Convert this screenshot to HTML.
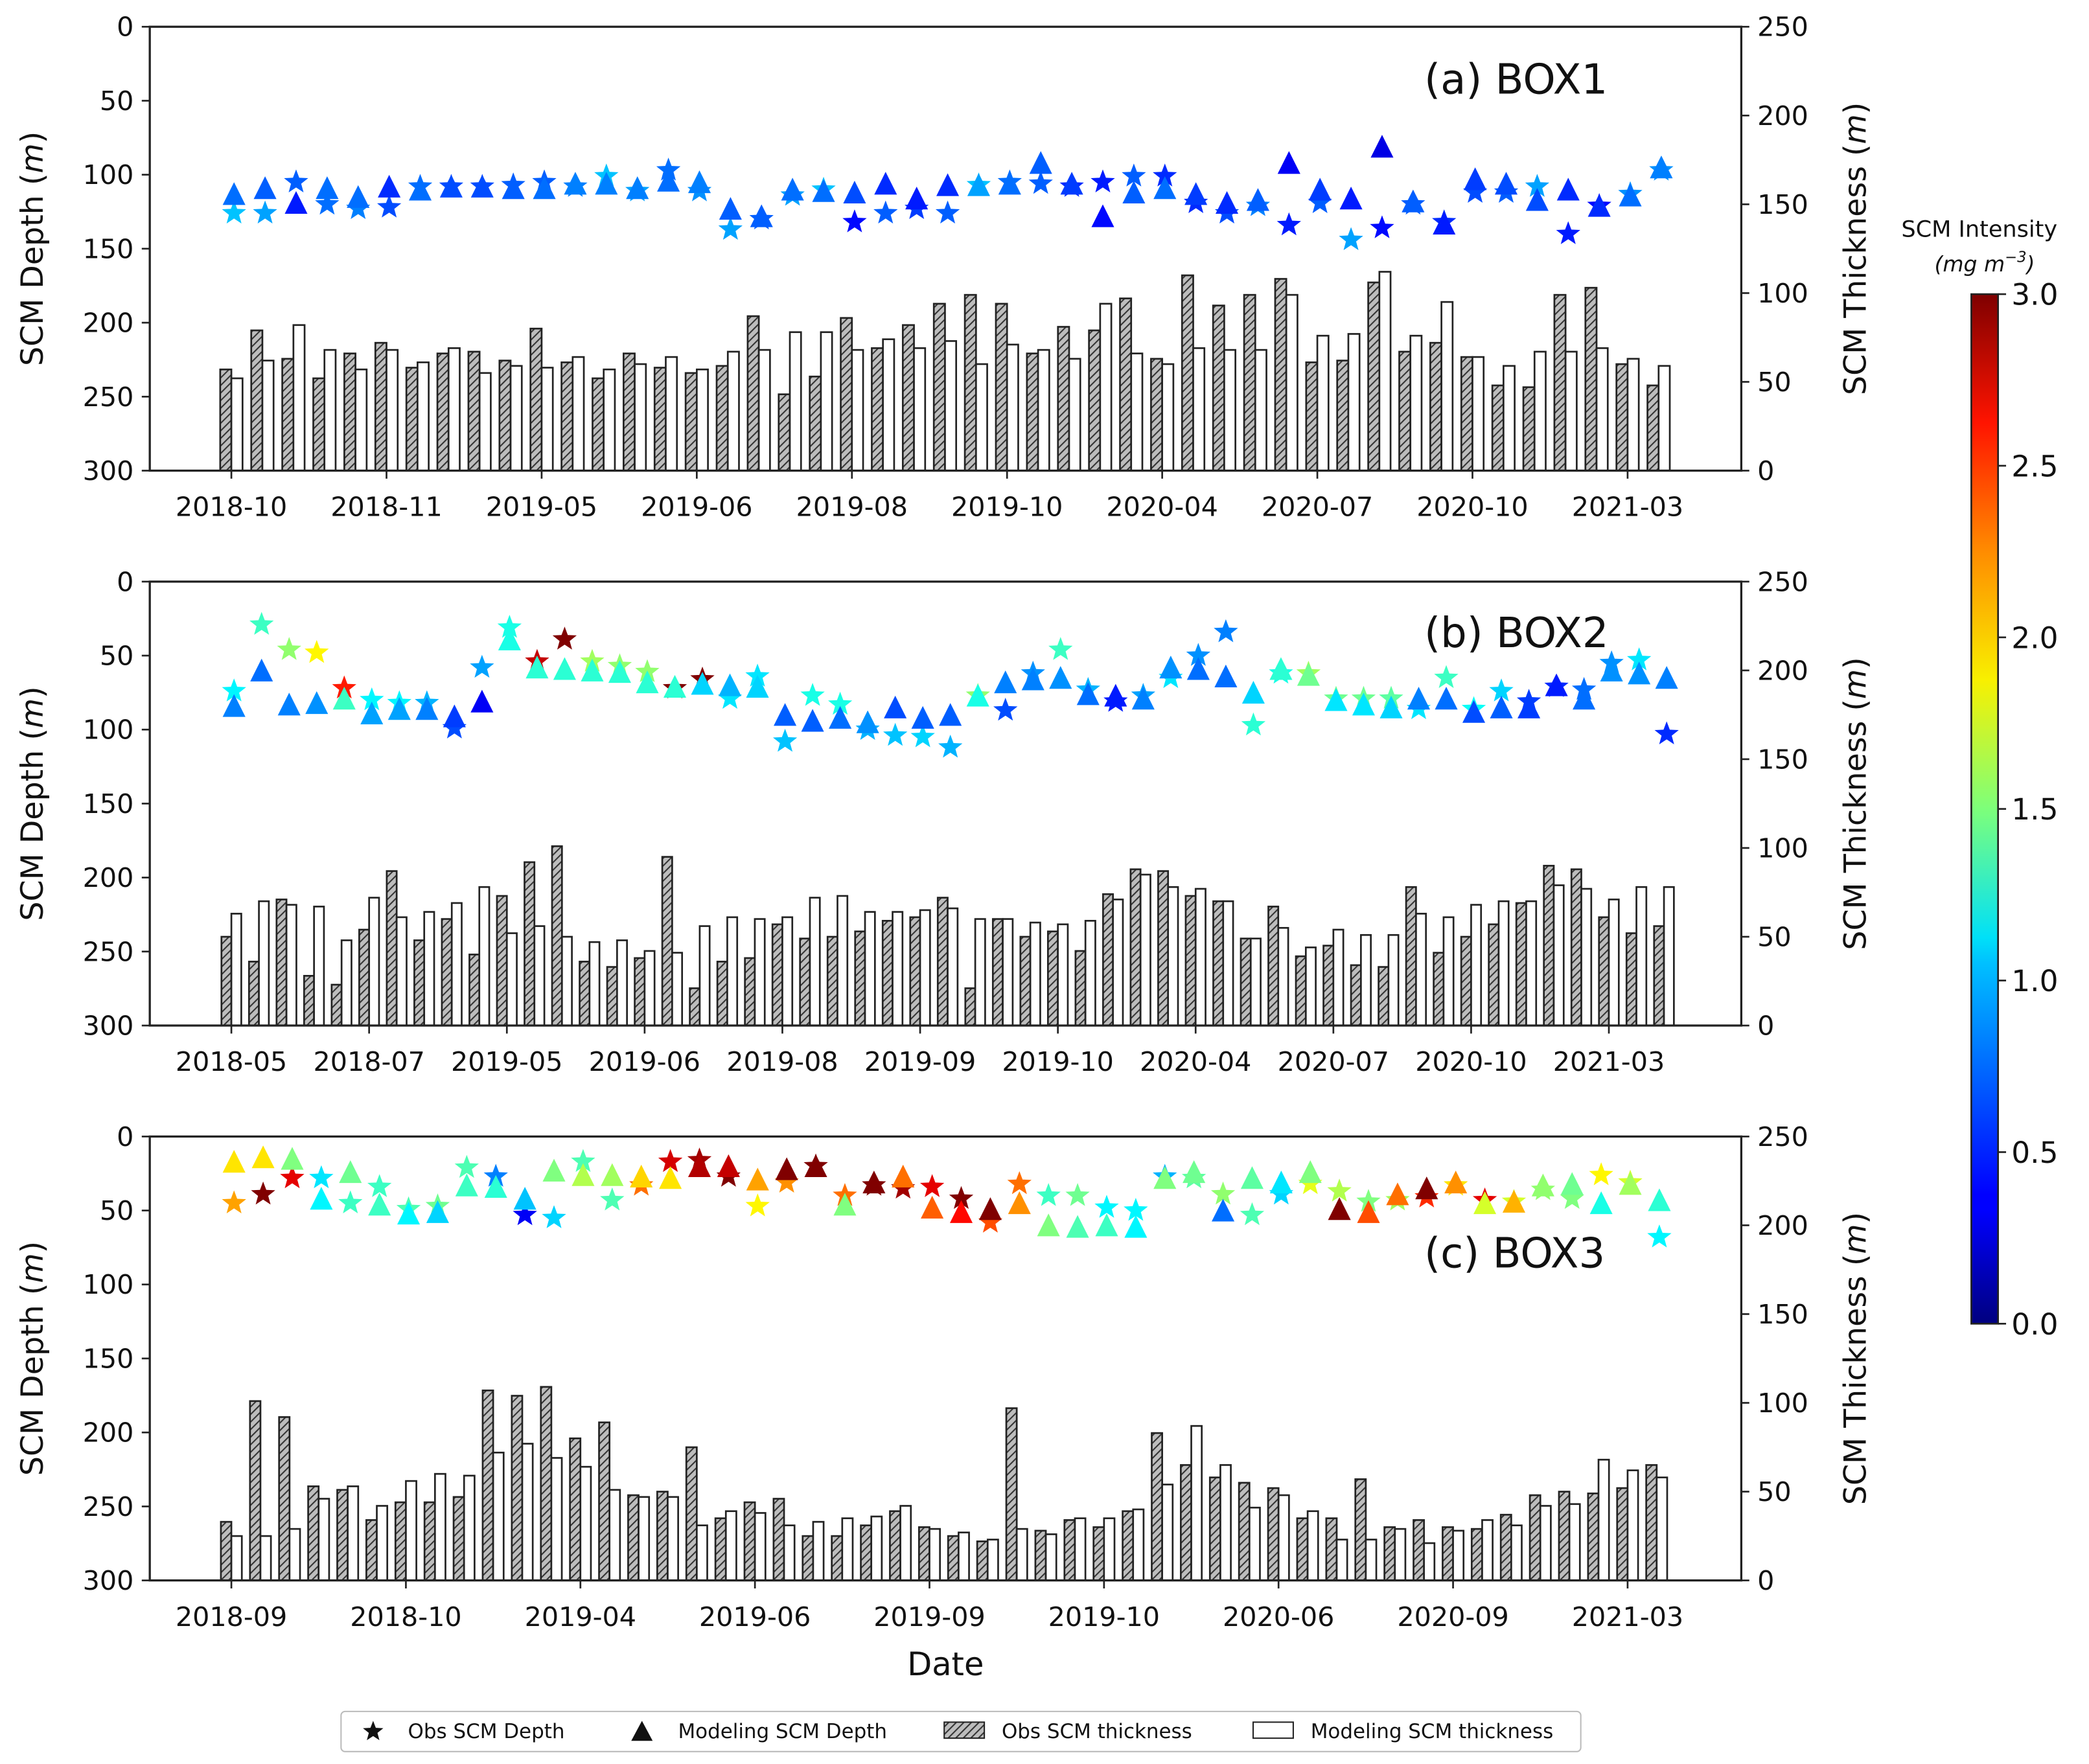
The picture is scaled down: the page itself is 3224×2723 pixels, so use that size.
<!DOCTYPE html>
<html><head><meta charset="utf-8">
<style>
html,body{margin:0;padding:0;background:#fff;}
svg{display:block;}
text{font-family:"DejaVu Sans","Liberation Sans",sans-serif;fill:#111;}
</style></head>
<body>
<svg id="fig" width="3224" height="2723" viewBox="0 0 1562 1319.3" preserveAspectRatio="none" xmlns="http://www.w3.org/2000/svg">
<defs>
<pattern id="hatch" patternUnits="userSpaceOnUse" width="4" height="4" patternTransform="rotate(45)">
<rect width="4" height="4" fill="#bdbdbd"/><line x1="0" y1="0" x2="0" y2="4" stroke="#333" stroke-width="2"/>
</pattern>
<linearGradient id="jetGrad" x1="0" y1="1" x2="0" y2="0">
<stop offset="0" stop-color="#00007f"/><stop offset="0.11" stop-color="#0000ff"/><stop offset="0.125" stop-color="#0000ff"/>
<stop offset="0.35" stop-color="#00c0ff"/><stop offset="0.375" stop-color="#00e0f8"/><stop offset="0.5" stop-color="#7dff7a"/>
<stop offset="0.625" stop-color="#f8f000"/><stop offset="0.75" stop-color="#ff8c00"/><stop offset="0.875" stop-color="#ff1400"/>
<stop offset="1" stop-color="#7f0000"/>
</linearGradient>
</defs>
<g id="root"></g>
</svg>
<script>
// ---------- Panel (a) BOX1 data ----------
const ticksA = ["2018-10","2018-11","2019-05","2019-06","2019-08","2019-10","2020-04","2020-07","2020-10","2021-03"];
const obsThickA = [57,79,63,52,66,72,58,66,67,62,80,61,52,66,58,55,59,87,43,53,86,69,82,94,99,94,66,81,79,97,63,110,93,99,108,61,62,106,67,72,64,48,47,99,103,60,48];
const modThickA = [52,62,82,68,57,68,61,69,55,59,58,64,57,60,64,57,67,68,78,78,68,74,69,73,60,71,68,63,94,66,60,69,68,68,99,76,77,112,76,95,64,59,67,67,69,63,59];
const obsDepthA = [126,126,105,120,123,122,108,108,108,107,105,108,101,111,97,111,137,130,114,110,132,126,123,126,107,105,106,108,105,101,101,119,126,121,134,119,144,136,120,132,112,112,108,140,121,113,97];
const obsIntA = [0.95,0.85,0.65,0.7,0.75,0.6,0.7,0.6,0.6,0.65,0.65,0.75,0.95,0.85,0.7,0.8,0.85,0.65,0.85,0.95,0.4,0.65,0.55,0.65,0.95,0.7,0.65,0.5,0.45,0.65,0.5,0.5,0.6,0.75,0.45,0.65,0.85,0.4,0.65,0.5,0.6,0.65,0.85,0.45,0.4,0.8,0.8];
const modDepthA = [115,111,121,111,117,110,112,110,110,111,111,108,108,111,106,107,125,130,112,113,114,108,118,109,109,108,94,108,130,114,111,115,121,119,94,112,118,83,120,135,105,108,119,112,123,116,97];
const modIntA = [0.7,0.65,0.45,0.7,0.7,0.5,0.7,0.6,0.6,0.65,0.7,0.75,0.75,0.75,0.7,0.75,0.65,0.65,0.7,0.7,0.6,0.5,0.45,0.5,0.85,0.7,0.65,0.55,0.4,0.65,0.7,0.55,0.5,0.65,0.35,0.55,0.45,0.3,0.65,0.45,0.55,0.6,0.6,0.5,0.5,0.7,0.75];

// ---------- Panel (b) BOX2 data ----------
const ticksB = ["2018-05","2018-07","2019-05","2019-06","2019-08","2019-09","2019-10","2020-04","2020-07","2020-10","2021-03"];
const obsThickB = [50,36,71,28,23,54,87,48,60,40,73,92,101,36,33,38,95,21,36,38,57,49,50,53,59,61,72,21,60,50,53,42,74,88,87,73,70,49,67,39,45,34,33,78,41,50,57,69,90,88,61,52,56];
const modThickB = [63,70,68,67,48,72,61,64,69,78,52,56,50,47,48,42,41,56,61,60,61,72,73,64,64,65,66,60,60,58,57,59,71,85,78,77,70,49,55,44,54,51,51,63,61,68,70,70,79,77,71,78,78];
const obsDepthB = [74,29,46,48,72,80,82,82,99,58,31,54,39,54,57,61,72,66,79,64,108,77,83,100,104,105,112,77,87,62,46,73,81,77,65,50,34,97,62,62,79,79,79,86,65,86,74,81,71,73,55,53,103];
const obsIntB = [1.1,1.3,1.55,1.9,2.55,1.1,1.1,0.9,0.6,0.85,1.2,2.8,3.0,1.6,1.55,1.55,3.0,3.0,1.05,1.05,0.95,1.2,1.2,0.9,0.95,1.0,0.9,1.55,0.6,0.8,1.3,0.9,0.45,0.85,1.05,0.8,0.75,1.25,1.2,1.6,1.45,1.45,1.4,1.05,1.3,1.15,1.0,0.55,0.5,0.7,0.8,1.05,0.5];
const modDepthB = [86,62,85,84,81,91,88,88,93,83,41,60,61,62,63,70,73,71,72,73,92,96,94,97,87,94,92,79,70,68,67,78,79,81,60,61,66,77,61,65,82,85,87,81,81,90,87,87,72,81,62,64,67];
const modIntB = [0.75,0.7,0.75,0.8,1.3,0.85,0.85,0.75,0.55,0.35,1.2,1.25,1.25,1.25,1.25,1.25,1.25,1.0,0.9,1.0,0.65,0.65,0.7,0.8,0.6,0.65,0.65,1.2,0.75,0.75,0.8,0.7,0.45,0.75,0.8,0.7,0.7,1.0,1.25,1.45,1.05,1.05,1.0,0.75,0.7,0.6,0.65,0.55,0.45,0.7,0.8,0.8,0.75];

// ---------- Panel (c) BOX3 data ----------
const ticksC = ["2018-09","2018-10","2019-04","2019-06","2019-09","2019-10","2020-06","2020-09","2021-03"];
const obsThickC = [33,101,92,53,51,34,44,44,47,107,104,109,80,89,48,50,75,35,44,46,25,25,31,39,30,25,22,97,28,34,30,39,83,65,58,55,52,35,35,57,30,34,30,29,37,48,50,49,52,65];
const modThickC = [25,25,29,46,53,42,56,60,59,72,77,69,64,51,47,47,31,39,38,31,33,35,36,42,29,27,23,29,26,35,35,40,54,87,65,41,48,39,23,23,29,21,28,34,31,42,43,68,62,58];
const obsDepthC = [45,39,28,28,45,34,49,47,21,27,53,55,17,43,33,17,16,27,47,31,20,40,33,35,34,42,58,32,40,40,48,50,27,28,39,53,39,32,37,44,43,41,33,43,44,36,42,26,31,68];
const obsIntC = [2.15,3.0,2.7,1.05,1.3,1.3,1.35,1.45,1.35,0.75,0.35,1.0,1.35,1.35,2.3,2.75,2.9,3.0,1.9,2.2,3.0,2.3,3.0,2.9,2.7,3.0,2.4,2.3,1.3,1.45,1.1,1.1,0.9,1.4,1.55,1.35,1.0,1.8,1.65,1.5,1.6,2.5,1.95,2.7,1.75,1.55,1.5,1.9,1.75,1.1];
const modDepthC = [19,16,17,44,26,48,54,53,35,36,44,25,28,28,29,30,22,22,31,24,22,48,33,29,50,53,51,47,62,63,62,63,30,26,52,30,33,26,51,53,41,37,33,47,46,35,34,47,34,45];
const modIntC = [1.95,1.95,1.5,1.1,1.45,1.3,1.1,1.0,1.3,1.25,0.95,1.5,1.65,1.6,2.0,1.95,2.85,2.8,2.15,3.0,3.0,1.5,3.0,2.3,2.35,2.6,3.0,2.2,1.5,1.35,1.3,1.1,1.5,1.45,0.7,1.4,1.05,1.5,3.0,2.4,2.3,3.0,2.2,1.75,2.1,1.55,1.45,1.2,1.6,1.25];

// ---------- Colorbar ticks ----------
const cbTicks = ["0.0","0.5","1.0","1.5","2.0","2.5","3.0"];
const depthTicks = [0,50,100,150,200,250,300];
const thickTicks = [0,50,100,150,200,250];

const NS = "http://www.w3.org/2000/svg";
const root = document.getElementById('root');
function mk(tag, attrs, parent){
  const e = document.createElementNS(NS, tag);
  for (const k in attrs) e.setAttribute(k, attrs[k]);
  (parent||root).appendChild(e);
  return e;
}
function jet(v){
  const t = Math.max(0, Math.min(1, v/3));
  const c = x => Math.round(255*Math.max(0, Math.min(1, x)));
  return `rgb(${c(1.5-Math.abs(4*t-3))},${c(1.5-Math.abs(4*t-2))},${c(1.5-Math.abs(4*t-1))})`;
}
function starPts(cx, cy, R, r){
  const p=[];
  for(let i=0;i<10;i++){
    const a = -Math.PI/2 + i*Math.PI/5;
    const rr = i%2===0 ? R : r;
    p.push((cx+rr*Math.cos(a)).toFixed(2)+','+(cy+rr*Math.sin(a)).toFixed(2));
  }
  return p.join(' ');
}

const L = 112, R = 1302, H = 332, X0 = 173;
function panel(cfg){
  const top = cfg.top, bottom = top + H;
  const g = mk('g', {});
  
  
  const yDepth = d => top + d/300*H;
  const yThick = t => bottom - t/250*H;
  const xg = i => X0 + i*cfg.step;
  const bw = cfg.step*0.36;

  // bars
  const n = cfg.obsT.length;
  for (let i=0;i<n;i++){
    const ob = mk('rect', {x: xg(i)-bw, y: yThick(cfg.obsT[i]), width: bw, height: bottom - yThick(cfg.obsT[i]), fill:'url(#hatch)', stroke:'#222', 'stroke-width':1.3}, g);
    
    
    const mb = mk('rect', {x: xg(i), y: yThick(cfg.modT[i]), width: bw, height: bottom - yThick(cfg.modT[i]), fill:'#fff', stroke:'#222', 'stroke-width':1.3}, g);
    
    
  }
  // markers
  for (let i=0;i<n;i++){
    const cx = xg(i)+2, cy = yDepth(cfg.obsD[i]);
    const s = mk('polygon', {points: starPts(cx, cy, 9.5, 4), fill: jet(cfg.obsI[i])}, g);
    
    
  }
  for (let i=0;i<n;i++){
    const cx = xg(i)+2, cy = yDepth(cfg.modD[i]);
    const t = mk('polygon', {points: `${cx},${cy-11} ${cx-8.5},${cy+6} ${cx+8.5},${cy+6}`, fill: jet(cfg.modI[i])}, g);
    
    
  }
  // frame
  const fr = mk('rect', {x:L, y:top, width:R-L, height:H, fill:'none', stroke:'#222', 'stroke-width':1.6}, g);
  
  
  // left ticks
  depthTicks.forEach(d=>{
    const y = yDepth(d);
    mk('line', {x1:L-6, x2:L, y1:y, y2:y, stroke:'#222', 'stroke-width':1.3}, g);
    const t = mk('text', {x:L-12, y:y+7, 'font-size':20, 'text-anchor':'end'}, g);
    t.textContent = d;
    
    
  });
  thickTicks.forEach(v=>{
    const y = yThick(v);
    mk('line', {x1:R, x2:R+6, y1:y, y2:y, stroke:'#222', 'stroke-width':1.3}, g);
    const t = mk('text', {x:R+12, y:y+7, 'font-size':20}, g);
    t.textContent = v;
    
    
  });
  cfg.ticks.forEach((lab, k)=>{
    const x = X0 + k*cfg.step*cfg.per;
    mk('line', {x1:x, x2:x, y1:bottom, y2:bottom+6, stroke:'#222', 'stroke-width':1.3}, g);
    const t = mk('text', {x:x, y:bottom+34, 'font-size':20, 'text-anchor':'middle'}, g);
    t.textContent = lab;
    
    
  });
  const yl = mk('text', {x:0, y:0, 'font-size':23, 'text-anchor':'middle', transform:`translate(32,${top+H/2}) rotate(-90)`}, g);
  yl.innerHTML = 'SCM Depth (<tspan font-style="italic">m</tspan>)';
  
  
  const yr = mk('text', {x:0, y:0, 'font-size':23, 'text-anchor':'middle', transform:`translate(1395,${top+H/2}) rotate(-90)`}, g);
  yr.innerHTML = 'SCM Thickness (<tspan font-style="italic">m</tspan>)';
  
  
  const ti = mk('text', {x:1065, y:cfg.titleY, 'font-size':31}, g);
  ti.textContent = cfg.title;
  
  
}

panel({name:'panel-a-box1', top:20, step:23.2, per:5, ticks:ticksA, obsT:obsThickA, modT:modThickA, obsD:obsDepthA, obsI:obsIntA, modD:modDepthA, modI:modIntA, title:'(a) BOX1', titleY:70});
panel({name:'panel-b-box2', top:435, step:20.6, per:5, ticks:ticksB, obsT:obsThickB, modT:modThickB, obsD:obsDepthB, obsI:obsIntB, modD:modDepthB, modI:modIntB, title:'(b) BOX2', titleY:484});
panel({name:'panel-c-box3', top:850, step:21.75, per:6, ticks:ticksC, obsT:obsThickC, modT:modThickC, obsD:obsDepthC, obsI:obsIntC, modD:modDepthC, modI:modIntC, title:'(c) BOX3', titleY:948});

const xt = mk('text', {x:707, y:1253, 'font-size':24, 'text-anchor':'middle'});
xt.textContent = 'Date';



// colorbar
const cbTop = 220, cbBot = 990, cbX = 1474, cbW = 20;
const cb = mk('rect', {x:cbX, y:cbTop, width:cbW, height:cbBot-cbTop, fill:'url(#jetGrad)', stroke:'#222', 'stroke-width':1.3});


cbTicks.forEach((lab,k)=>{
  const y = cbBot - (parseFloat(lab)/3)*(cbBot-cbTop);
  mk('line', {x1:cbX+cbW, x2:cbX+cbW+6, y1:y, y2:y, stroke:'#222', 'stroke-width':1.3});
  const t = mk('text', {x:cbX+cbW+10, y:y+8, 'font-size':22});
  t.textContent = lab;
  
  
});
const cbl = mk('text', {x:1480, y:177, 'font-size':17, 'text-anchor':'middle'});
cbl.textContent = 'SCM Intensity';


const cbl2 = mk('text', {x:1484, y:203, 'font-size':16, 'text-anchor':'middle', 'font-style':'italic'});
cbl2.innerHTML = '(mg m<tspan dy="-7" font-size="11">−3</tspan><tspan dy="7">)</tspan>';



// legend
const lg = mk('g', {});


mk('rect', {x:255, y:1280, width:927, height:30, fill:'#fff', stroke:'#bbb', 'stroke-width':1, rx:3}, lg);
mk('polygon', {points: starPts(279, 1295, 8, 3.4), fill:'#111'}, lg);
const l1 = mk('text', {x:305, y:1300, 'font-size':15}, lg); l1.textContent = 'Obs SCM Depth';


mk('polygon', {points: '480,1287 472,1302 488,1302', fill:'#111'}, lg);
const l2 = mk('text', {x:507, y:1300, 'font-size':15}, lg); l2.textContent = 'Modeling SCM Depth';


mk('rect', {x:706, y:1288, width:30, height:12, fill:'url(#hatch)', stroke:'#222', 'stroke-width':1}, lg);
const l3 = mk('text', {x:749, y:1300, 'font-size':15}, lg); l3.textContent = 'Obs SCM thickness';


mk('rect', {x:937, y:1288, width:30, height:12, fill:'#fff', stroke:'#222', 'stroke-width':1}, lg);
const l4 = mk('text', {x:980, y:1300, 'font-size':15}, lg); l4.textContent = 'Modeling SCM thickness';


</script>
</body></html>
